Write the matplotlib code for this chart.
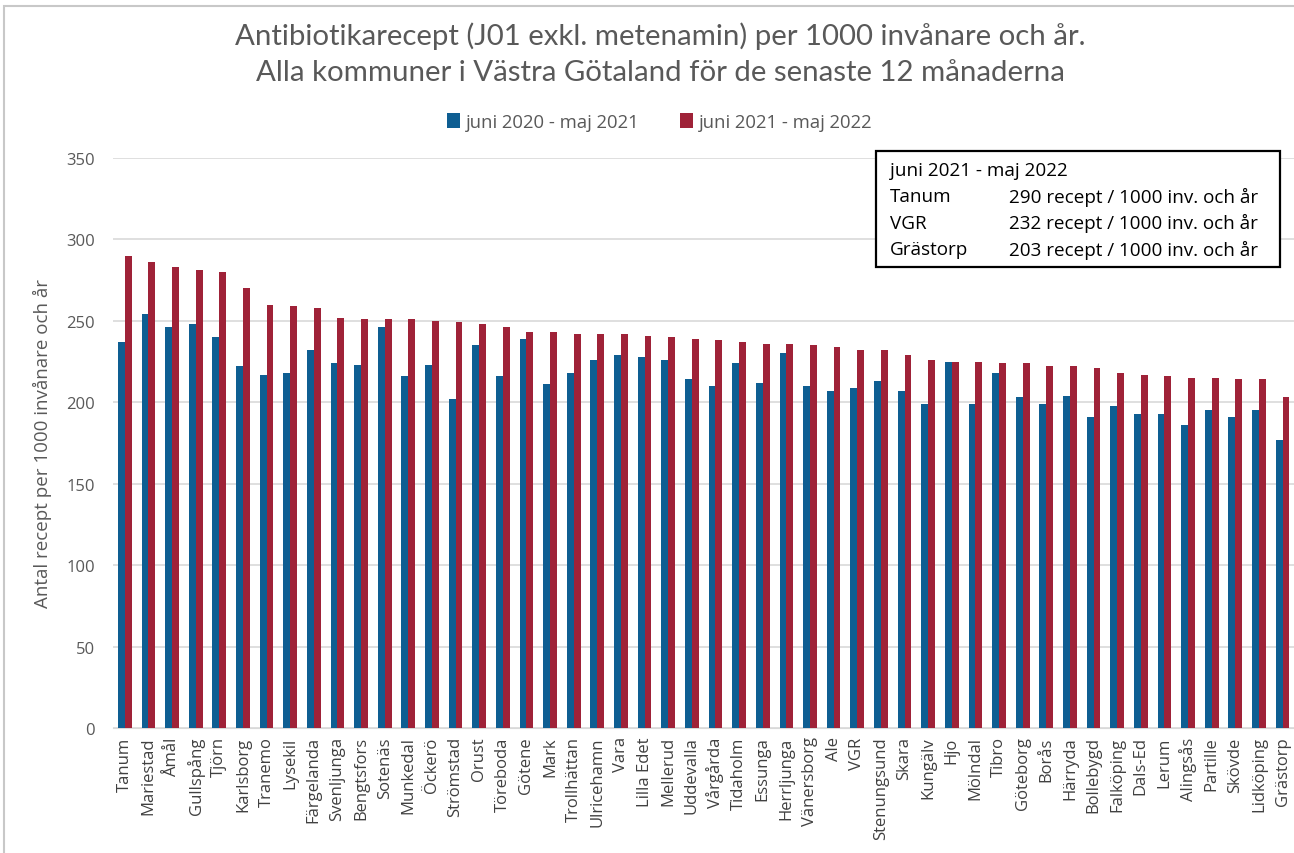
import numpy as np
import matplotlib.pyplot as plt
from matplotlib.patches import Rectangle

kommuner = ['Tanum', 'Mariestad', 'Åmål', 'Gullspång', 'Tjörn', 'Karlsborg', 'Tranemo',
            'Lysekil', 'Färgelanda', 'Svenljunga', 'Bengtsfors', 'Sotenäs', 'Munkedal',
            'Öckerö', 'Strömstad', 'Orust', 'Töreboda', 'Götene', 'Mark', 'Trollhättan',
            'Ulricehamn', 'Vara', 'Lilla Edet', 'Mellerud', 'Uddevalla', 'Vårgårda',
            'Tidaholm', 'Essunga', 'Herrljunga', 'Vänersborg', 'Ale', 'VGR', 'Stenungsund',
            'Skara', 'Kungälv', 'Hjo', 'Mölndal', 'Tibro', 'Göteborg', 'Borås', 'Härryda',
            'Bollebygd', 'Falköping', 'Dals-Ed', 'Lerum', 'Alingsås', 'Partille', 'Skövde',
            'Lidköping', 'Grästorp']

period_2020 = [237, 254, 246, 248, 240, 222, 217, 218, 232, 224, 223, 246, 216,
               223, 202, 235, 216, 239, 211, 218, 226, 229, 228, 226, 214, 210,
               224, 212, 230, 210, 207, 209, 213, 207, 199, 225, 199, 218, 203,
               199, 204, 191, 198, 193, 193, 186, 195, 191, 195, 177]

period_2021 = [290, 286, 283, 281, 280, 270, 260, 259, 258, 252, 251, 251, 251,
               250, 249, 248, 246, 243, 243, 242, 242, 242, 241, 240, 239, 238,
               237, 236, 236, 235, 234, 232, 232, 229, 226, 225, 225, 224, 224,
               222, 222, 221, 218, 217, 216, 215, 215, 214, 214, 203]

series_labels = ['juni 2020 - maj 2021', 'juni 2021 - maj 2022']
box_title = 'juni 2021 - maj 2022'
box_rows = [('Tanum', 290), ('VGR', 232), ('Grästorp', 203)]

blue = '#0e5e92'
red = '#9f2238'
grey = '#595959'

plt.rcParams['font.family'] = ['Open Sans', 'DejaVu Sans']

fig = plt.figure(figsize=(12.94, 8.54), dpi=100)
ax = fig.add_axes([0.0873, 0.1464, 0.913, 0.6674])

x = np.arange(len(kommuner))
w = 0.29
ax.bar(x - w / 2, period_2020, w, color=blue, label=series_labels[0], zorder=3)
ax.bar(x + w / 2, period_2021, w, color=red, label=series_labels[1], zorder=3)

ax.set_xlim(-0.5, len(kommuner) - 0.5)
ax.set_ylim(0, 350)
ax.set_yticks(np.arange(0, 351, 50))
ax.yaxis.grid(True, color='#d9d9d9', linewidth=1.2, zorder=0)
ax.set_xticks(x)
ax.set_xticklabels(kommuner, rotation=90, fontsize=12, color='#404040')
ax.tick_params(axis='y', labelsize=12, labelcolor=grey, length=0, pad=13)
ax.tick_params(axis='x', length=0, pad=6)
for s in ['top', 'right', 'left']:
    ax.spines[s].set_visible(False)
ax.spines['bottom'].set_color('#d9d9d9')
ax.set_ylabel('Antal recept per 1000 invånare och år', fontsize=13.5, color=grey, labelpad=10)

fig.text(0.51, 0.958, 'Antibiotikarecept (J01 exkl. metenamin) per 1000 invånare och år.',
         ha='center', va='center', fontsize=21.2, color=grey, family='Lato')
fig.text(0.51, 0.915, 'Alla kommuner i Västra Götaland för de senaste 12 månaderna',
         ha='center', va='center', fontsize=21.2, color=grey, family='Lato')

fig.legend(loc='center', bbox_to_anchor=(0.51, 0.856), ncol=2, frameon=False,
           fontsize=13.3, labelcolor=grey, handlelength=0.7, handleheight=0.9,
           handletextpad=0.3, columnspacing=2.2)

# info box
fig.patches.append(Rectangle((0.677, 0.686), 0.312, 0.136, transform=fig.transFigure,
                             fill=True, facecolor='white', edgecolor='black',
                             linewidth=1.6, zorder=5))
fig.text(0.688, 0.800, box_title, fontsize=13.6, va='center', color='black', zorder=6)
for i, (name, val) in enumerate(box_rows):
    yy = 0.769 - i * 0.031
    fig.text(0.688, yy, name, fontsize=13.6, va='center', color='black', zorder=6)
    fig.text(0.780, yy, f'{val} recept / 1000 inv. och år', fontsize=13.6, va='center',
             color='black', zorder=6)

# screenshot frame
fig.patches.append(Rectangle((0.003, -0.01), 1.2, 1.002, transform=fig.transFigure,
                             fill=False, edgecolor='#c8c8c8', linewidth=1.5))

fig.savefig('out.png', dpi=100)
